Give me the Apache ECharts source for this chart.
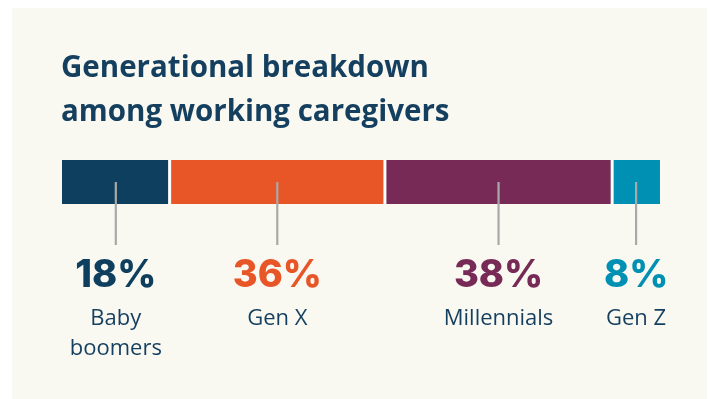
<!DOCTYPE html>
<html>
<head>
<meta charset="utf-8">
<script src="https://cdn.jsdelivr.net/npm/echarts@6/dist/echarts.min.js"></script>
<style>
html,body{margin:0;padding:0;background:#ffffff;}
#wrap{position:relative;width:713px;height:399px;overflow:hidden;}
#panel{position:absolute;left:12px;top:8px;width:695px;height:391px;background:#f9f8f1;}
#chart{position:absolute;left:0;top:0;width:713px;height:399px;}
</style>
</head>
<body>
<div id="wrap"><div id="panel"></div><div id="chart"></div></div>
<script>
const titleText = 'Generational breakdown\namong working caregivers';
const categories = ['Baby\nboomers', 'Gen X', 'Millennials', 'Gen Z'];
const shares = [18, 36, 38, 8];
const segColors = ['#0f3f5f', '#e85628', '#762a55', '#0090b3'];

const data = [];
let acc = 0;
shares.forEach((v, i) => {
  data.push([acc, acc + v, v, i]);
  acc += v;
});

const chart = echarts.init(document.getElementById('chart'), null, {renderer: 'canvas'});
chart.setOption({
  backgroundColor: 'transparent',
  animation: false,
  title: {
    text: titleText,
    left: 61,
    top: 47,
    padding: 0,
    textStyle: {
      fontFamily: 'Open Sans',
      fontWeight: 'bold',
      fontSize: 29.5,
      lineHeight: 44,
      color: '#143f5f'
    }
  },
  grid: {left: 62, right: 53, top: 160, bottom: 195},
  xAxis: {type: 'value', min: 0, max: 100, show: false},
  yAxis: {type: 'value', min: 0, max: 1, show: false},
  series: [{
    type: 'custom',
    clip: false,
    data: data,
    renderItem: function (params, api) {
      const s = api.value(0), e = api.value(1), v = api.value(2), i = api.value(3);
      const p0 = api.coord([s, 1]);
      const p1 = api.coord([e, 0]);
      const n = shares.length;
      const x0 = p0[0] + (i > 0 ? 1.5 : 0);
      const x1 = p1[0] - (i < n - 1 ? 1.5 : 0);
      const cx = (p0[0] + p1[0]) / 2;
      const children = [];
      if (i > 0) {
        children.push({type: 'rect', shape: {x: p0[0] - 1, y: p0[1], width: 2, height: p1[1] - p0[1]}, style: {fill: '#ffffff'}});
      }
      children.push({type: 'rect', shape: {x: x0, y: p0[1], width: x1 - x0, height: p1[1] - p0[1]}, style: {fill: segColors[i]}});
      children.push({type: 'line', shape: {x1: cx, y1: p0[1] + 22, x2: cx, y2: p1[1] + 41}, style: {stroke: '#a9a9a9', lineWidth: 2.2}});
      children.push({type: 'text', style: {
        x: cx, y: p1[1] + 72, text: v + '%', align: 'center', verticalAlign: 'middle',
        font: '800 38px Inter', fill: segColors[i]
      }});
      categories[i].split('\n').forEach((ln, k) => {
        children.push({type: 'text', style: {
          x: cx, y: p1[1] + 115 + k * 30, text: ln, align: 'center', verticalAlign: 'middle',
          font: '400 22px "Open Sans"', fill: '#143f5f'
        }});
      });
      return {type: 'group', children: children};
    }
  }]
});
</script>
</body>
</html>
